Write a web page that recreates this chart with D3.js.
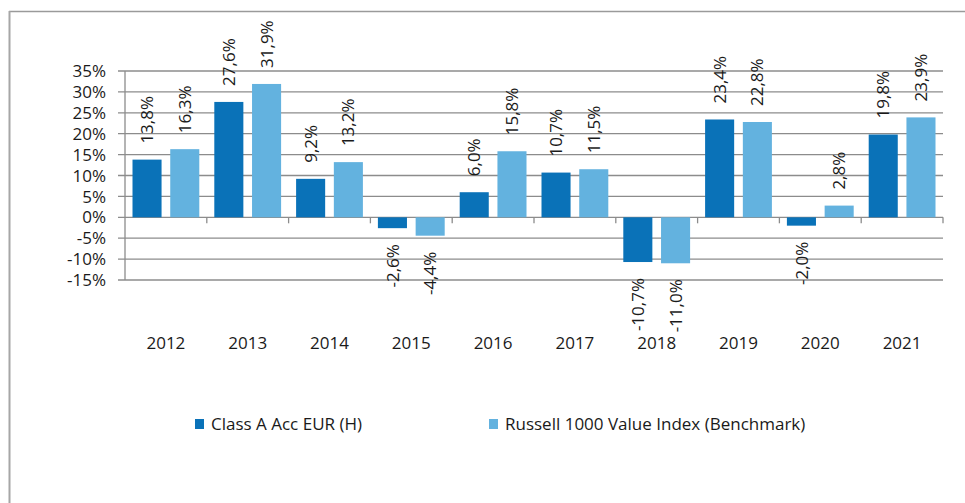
<!DOCTYPE html>
<html>
<head>
<meta charset="utf-8">
<script src="https://cdn.jsdelivr.net/npm/d3@7"></script>
<style>
  body { margin: 0; background: #fff; }
  text { font-family: "Open Sans", sans-serif; fill: #1a1a1a; }
</style>
</head>
<body>
<div id="chart"></div>
<script>
let years = ["2012", "2013", "2014", "2015", "2016", "2017", "2018", "2019", "2020", "2021"];
let series = ["Class A Acc EUR (H)", "Russell 1000 Value Index (Benchmark)"];
let fund_values = [13.8, 27.6, 9.2, -2.6, 6.0, 10.7, -10.7, 23.4, -2.0, 19.8];
let bench_values = [16.3, 31.9, 13.2, -4.4, 15.8, 11.5, -11.0, 22.8, 2.8, 23.9];
let y_ticks = [-15, -10, -5, 0, 5, 10, 15, 20, 25, 30, 35];
let colors = ["#0a72b8", "#63b2df"];

let config_size = {
    svg_width: 965,
    svg_height: 503,
    plot: { left: 125, right: 943, top: 71, bottom: 280 },
};

let data = years.map((yr, i) => ({ year: yr, values: [fund_values[i], bench_values[i]] }));

let svg = d3.select("#chart").append("svg")
    .attr("width", config_size.svg_width).attr("height", config_size.svg_height);

// outer frame (top and left only visible)
svg.append("line").attr("x1", 9).attr("x2", 965).attr("y1", 11.5).attr("y2", 11.5)
    .attr("stroke", "#9a9a9a").attr("stroke-width", 1.5);
svg.append("line").attr("x1", 9.5).attr("x2", 9.5).attr("y1", 11).attr("y2", 503)
    .attr("stroke", "#a6a6a6").attr("stroke-width", 2);

let p = config_size.plot;
let x = d3.scaleBand().domain(years).range([p.left, p.right]);
let x_inner = d3.scaleBand().domain([0, 1])
    .range([7.5, x.bandwidth() - 7.5]).paddingInner(0.23);
let y = d3.scaleLinear().domain([-15, 35]).range([p.bottom, p.top]);

let fmt = v => d3.format(".1f")(v).replace(".", ",").replace("−", "-") + "%";

// gridlines
svg.append("g").selectAll("line").data(y_ticks).join("line")
    .attr("x1", p.left - 7).attr("x2", p.right)
    .attr("y1", d => y(d)).attr("y2", d => y(d))
    .attr("stroke", "#8c8c8c").attr("stroke-width", 1.3);

// y axis line
svg.append("line").attr("x1", p.left).attr("x2", p.left)
    .attr("y1", p.top).attr("y2", p.bottom)
    .attr("stroke", "#8c8c8c").attr("stroke-width", 1.3);

// y labels
svg.append("g").selectAll("text").data(y_ticks).join("text")
    .attr("x", 106).attr("y", d => y(d)).attr("dy", "0.36em")
    .attr("text-anchor", "end").style("font-size", "17px")
    .text(d => d + "%");

// category ticks on the zero line
let bounds = years.map(d => x(d)).concat([p.right]);
svg.append("g").selectAll("line").data(bounds.slice(1)).join("line")
    .attr("x1", d => d).attr("x2", d => d)
    .attr("y1", y(0)).attr("y2", y(0) + 6)
    .attr("stroke", "#8c8c8c").attr("stroke-width", 1.3);

// bars
let groups = svg.append("g").selectAll("g").data(data).join("g")
    .attr("transform", d => `translate(${x(d.year)},0)`);

groups.selectAll("rect").data(d => d.values.map((v, i) => ({ v, i }))).join("rect")
    .attr("x", d => x_inner(d.i)).attr("width", x_inner.bandwidth())
    .attr("y", d => y(Math.max(0, d.v)))
    .attr("height", d => Math.abs(y(d.v) - y(0)))
    .attr("fill", d => colors[d.i]);

// rotated value labels
groups.selectAll("text").data(d => d.values.map((v, i) => ({ v, i }))).join("text")
    .attr("transform", d => {
        let cx = x_inner(d.i) + x_inner.bandwidth() / 2;
        let cy = d.v >= 0 ? y(d.v) - 16 : y(d.v) + 16;
        return `translate(${cx},${cy}) rotate(-90)`;
    })
    .attr("dy", "0.36em")
    .attr("text-anchor", d => d.v >= 0 ? "start" : "end")
    .style("font-size", "17px")
    .text(d => fmt(d.v));

// x labels
svg.append("g").selectAll("text").data(years).join("text")
    .attr("x", d => x(d) + x.bandwidth() / 2).attr("y", 349)
    .attr("text-anchor", "middle").style("font-size", "17px")
    .text(d => d);

// legend
let legend_pos = [{ sx: 195, tx: 211 }, { sx: 489, tx: 505 }];
let legend = svg.append("g").selectAll("g").data(series).join("g");
legend.append("rect")
    .attr("x", (d, i) => legend_pos[i].sx).attr("y", 419)
    .attr("width", 9).attr("height", 10)
    .attr("fill", (d, i) => colors[i]);
legend.append("text")
    .attr("x", (d, i) => legend_pos[i].tx).attr("y", 430)
    .style("font-size", "17px")
    .text(d => d);
</script>
</body>
</html>
